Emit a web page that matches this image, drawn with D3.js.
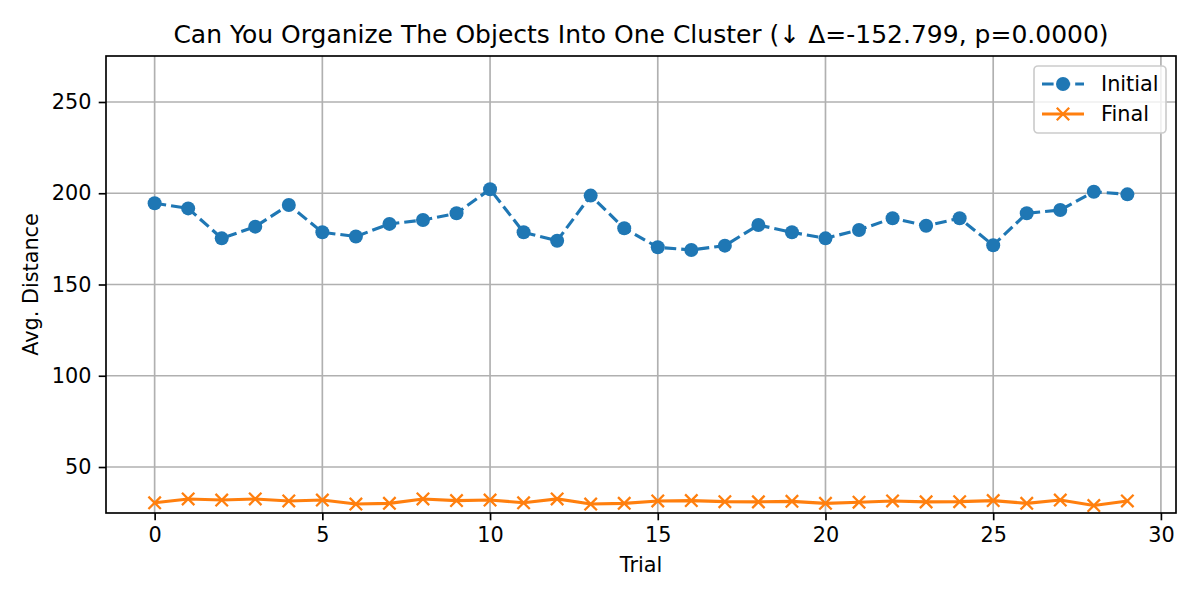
<!DOCTYPE html>
<html><head><meta charset="utf-8">
<script src="https://cdn.jsdelivr.net/npm/d3@7"></script>
<style>body{margin:0;background:#fff;} text{font-family:"DejaVu Sans",sans-serif;}</style>
</head><body>
<svg id="c" width="1200" height="600"></svg>
<script>
const trials = d3.range(30);
const initialVals = [194.5,191.7,175.3,181.7,193.6,178.6,176.3,183.2,185.3,189.0,202.2,178.6,174.0,198.7,180.8,170.4,168.9,171.3,182.6,178.6,175.3,179.9,186.3,182.2,186.3,171.5,189.0,190.8,200.8,199.4];
const finalVals = [30.4,32.5,31.9,32.5,31.4,31.9,29.7,30.1,32.5,31.6,31.9,30.4,32.5,29.7,30.1,31.4,31.6,31.0,30.9,31.2,30.1,30.7,31.4,30.9,31.0,31.6,30.1,31.9,28.9,31.4];
const xTicks = [0,5,10,15,20,25,30];
const yTicks = [50,100,150,200,250];
const title = "Can You Organize The Objects Into One Cluster (\u2193 \u0394=-152.799, p=0.0000)";

const PT = 150/72;
const svg = d3.select("#c");
const L=106, R=1176, T=56, B=513;
const x = d3.scaleLinear().domain([-1.45,30.45]).range([L,R]);
const y = d3.scaleLinear().domain([24.8,275.2]).range([B,T]);
const FS = (10*PT).toFixed(1)+"px";
const lw = 1.5*PT, dash = `${(5.55*PT).toFixed(1)},${(2.4*PT).toFixed(1)}`;
const RC = 7.0, RX = 6.2;

// grid
svg.append("g").selectAll("line").data(xTicks).join("line")
  .attr("x1",d=>x(d)).attr("x2",d=>x(d)).attr("y1",T).attr("y2",B)
  .attr("stroke","#b0b0b0").attr("stroke-width",0.8*PT);
svg.append("g").selectAll("line").data(yTicks).join("line")
  .attr("x1",L).attr("x2",R).attr("y1",d=>y(d)).attr("y2",d=>y(d))
  .attr("stroke","#b0b0b0").attr("stroke-width",0.8*PT);

// axes
const xa = svg.append("g").attr("transform",`translate(0,${B})`)
  .call(d3.axisBottom(x).tickValues(xTicks).tickSize(3.5*PT).tickPadding(3.5*PT).tickFormat(d3.format("d")));
const ya = svg.append("g").attr("transform",`translate(${L},0)`)
  .call(d3.axisLeft(y).tickValues(yTicks).tickSize(3.5*PT).tickPadding(3.5*PT).tickFormat(d3.format("d")));
[xa,ya].forEach(a=>{
  a.attr("font-family","DejaVu Sans").attr("font-size",FS);
  a.select(".domain").remove();
  a.selectAll("line").attr("stroke","#000").attr("stroke-width",0.8*PT);
  a.selectAll("text").attr("fill","#000");
});

// lines
const line = (vals)=>d3.line().x((d,i)=>x(trials[i])).y(d=>y(d))(vals);
svg.append("path").attr("d",line(initialVals)).attr("fill","none")
  .attr("stroke","#1f77b4").attr("stroke-width",lw).attr("stroke-dasharray",dash);
svg.append("g").selectAll("circle").data(initialVals).join("circle")
  .attr("cx",(d,i)=>x(trials[i])).attr("cy",d=>y(d)).attr("r",RC).attr("fill","#1f77b4");

svg.append("path").attr("d",line(finalVals)).attr("fill","none")
  .attr("stroke","#ff7f0e").attr("stroke-width",lw);
const xm = (g,cx,cy,s)=>g.append("path").attr("d",`M${cx-s},${cy-s}L${cx+s},${cy+s}M${cx-s},${cy+s}L${cx+s},${cy-s}`)
  .attr("stroke","#ff7f0e").attr("stroke-width",1.1*PT).attr("fill","none");
const fg = svg.append("g");
finalVals.forEach((d,i)=>xm(fg,x(trials[i]),y(d),RX));

// frame
svg.append("rect").attr("x",L).attr("y",T).attr("width",R-L).attr("height",B-T)
  .attr("fill","none").attr("stroke","#000").attr("stroke-width",0.8*PT);

// title & labels
svg.append("text").attr("x",(L+R)/2).attr("y",43).attr("text-anchor","middle")
  .attr("font-size",(12*PT).toFixed(1)+"px").text(title);
svg.append("text").attr("x",(L+R)/2).attr("y",572).attr("text-anchor","middle")
  .attr("font-size",FS).text("Trial");
svg.append("text").attr("transform",`translate(38,${(T+B)/2}) rotate(-90)`).attr("text-anchor","middle")
  .attr("font-size",FS).text("Avg. Distance");

// legend
const lg = svg.append("g");
lg.append("rect").attr("x",1034).attr("y",66).attr("width",132).attr("height",67).attr("rx",4)
  .attr("fill","#fff").attr("fill-opacity",0.8).attr("stroke","#cccccc").attr("stroke-width",0.8*PT);
lg.append("line").attr("x1",1042).attr("x2",1084).attr("y1",84).attr("y2",84)
  .attr("stroke","#1f77b4").attr("stroke-width",lw).attr("stroke-dasharray",dash);
lg.append("circle").attr("cx",1063).attr("cy",84).attr("r",RC).attr("fill","#1f77b4");
lg.append("text").attr("x",1101).attr("y",91).attr("font-size",FS).text("Initial");
lg.append("line").attr("x1",1042).attr("x2",1084).attr("y1",114).attr("y2",114)
  .attr("stroke","#ff7f0e").attr("stroke-width",lw);
xm(lg,1063,114,RX);
lg.append("text").attr("x",1101).attr("y",121).attr("font-size",FS).text("Final");
</script>
</body></html>
